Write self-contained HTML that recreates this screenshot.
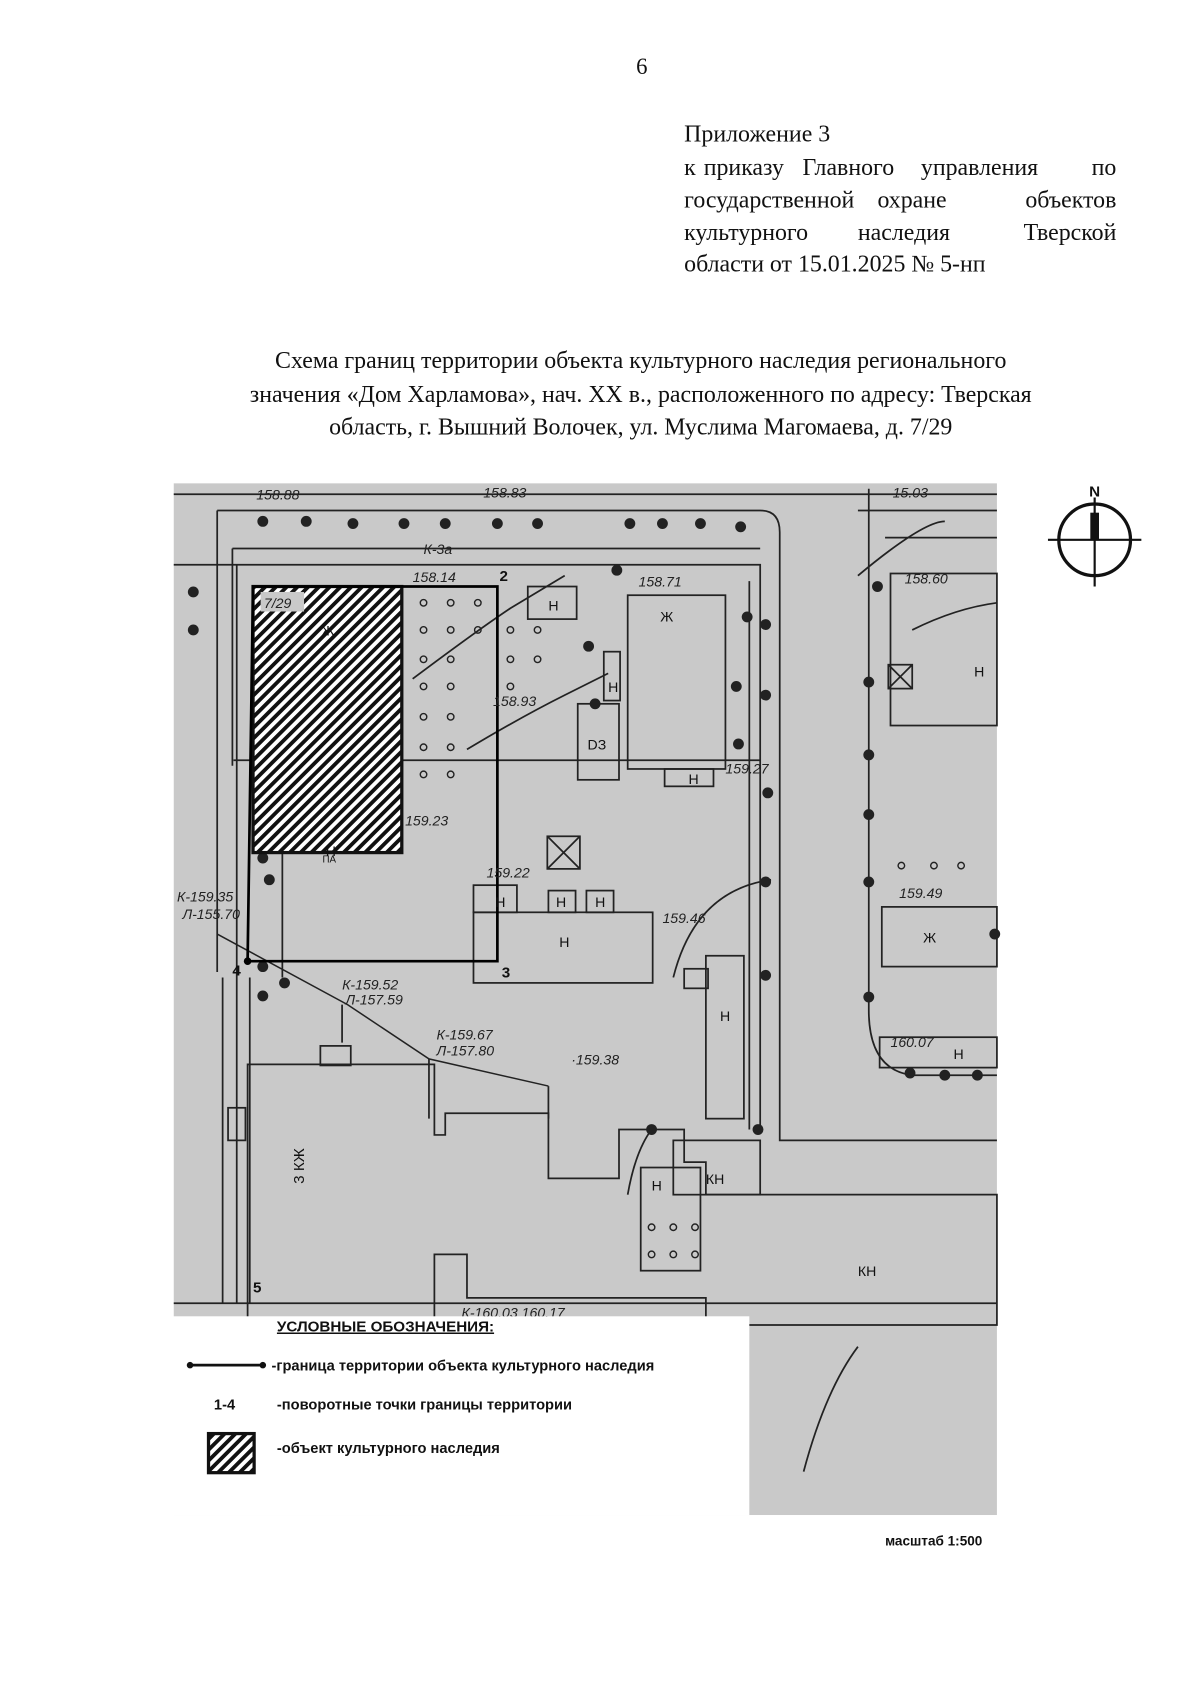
<!DOCTYPE html>
<html><head><meta charset="utf-8">
<style>
html,body{margin:0;padding:0;background:#fff;}
svg{display:block;}
.s{font-family:"Liberation Serif","Noto Serif CJK SC",serif;fill:#111;}
.a{font-family:"Liberation Sans","Noto Sans CJK SC",sans-serif;fill:#111;}
.m{font-family:"Liberation Sans",sans-serif;fill:#222;font-size:13px;font-style:italic;}
</style></head>
<body>
<svg width="1200" height="1703" viewBox="0 0 1105 1568" xmlns="http://www.w3.org/2000/svg">
<defs>
<pattern id="h" width="7" height="7" patternUnits="userSpaceOnUse" patternTransform="rotate(45)">
<rect width="7" height="7" fill="#fff"/><rect width="3.5" height="7" fill="#111"/>
</pattern>
</defs>
<rect width="1105" height="1568" fill="#fff"/>
<text x="591" y="68" class="s" font-size="21" text-anchor="middle">6</text>
<g class="s" font-size="22">
<text x="630" y="130">Приложение 3</text>
<text x="630" y="161">к</text><text x="648" y="161">приказу</text><text x="739" y="161">Главного</text><text x="848" y="161">управления</text><text x="1028" y="161" text-anchor="end">по</text>
<text x="630" y="191">государственной</text><text x="808" y="191">охране</text><text x="1028" y="191" text-anchor="end">объектов</text>
<text x="630" y="221">культурного</text><text x="790" y="221">наследия</text><text x="1028" y="221" text-anchor="end">Тверской</text>
<text x="630" y="250">области от 15.01.2025 № 5-нп</text>
</g>
<g class="s" font-size="22" text-anchor="middle">
<text x="590" y="339">Схема границ территории объекта культурного наследия регионального</text>
<text x="590" y="370">значения «Дом Харламова», нач. XX в., расположенного по адресу: Тверская</text>
<text x="590" y="400">область, г. Вышний Волочек, ул. Муслима Магомаева, д. 7/29</text>
</g>
<!-- map -->
<rect x="160" y="445" width="758" height="950" fill="#c9c9c9"/>
<g stroke="#222" stroke-width="1.6" fill="none">
<path d="M160 455H918M200 470V895M200 470H700Q718 470 718 490V1050H918"/>
<path d="M160 520H700V1040"/>
<path d="M214 505H700M214 505V705"/>
<path d="M215 700H700M690 535V1040"/>
<path d="M800 450V930Q800 985 840 990H918"/>
<path d="M790 470H918M815 495H918"/>
<path d="M218 520V1200M205 900V1200M230 900V1200"/>
<rect x="486" y="540" width="45" height="30"/>
<rect x="556" y="600" width="15" height="45"/>
<rect x="532" y="648" width="38" height="70"/>
<rect x="578" y="548" width="90" height="160"/>
<rect x="612" y="708" width="45" height="16"/>
<rect x="504" y="770" width="30" height="30"/>
<path d="M504 770L534 800M534 770L504 800"/>
<rect x="436" y="815" width="40" height="25"/>
<rect x="505" y="820" width="25" height="20"/>
<rect x="540" y="820" width="25" height="20"/>
<rect x="436" y="840" width="165" height="65"/>
<rect x="630" y="892" width="22" height="18"/>
<rect x="650" y="880" width="35" height="150"/>
<rect x="820" y="528" width="98" height="140"/>
<rect x="812" y="835" width="106" height="55"/>
<rect x="810" y="955" width="108" height="28"/>
<rect x="818" y="612" width="22" height="22"/>
<path d="M818 612L840 634M840 612L818 634"/>
<path d="M228 980H400V1045H410V1025H505V1085H570V1040H630V1070H650V1100H918V1220H650V1195H430V1155H400V1225H228Z"/>
<rect x="590" y="1075" width="55" height="95"/>
<rect x="620" y="1050" width="80" height="50"/>
<rect x="295" y="963" width="28" height="18"/><rect x="210" y="1020" width="16" height="30"/>
<path d="M380 625Q440 580 470 560L520 530"/>
<path d="M430 690Q480 660 520 640Q560 620 560 620"/>
<path d="M620 900Q640 820 710 810"/>
<path d="M790 530Q850 480 870 480"/>
<path d="M840 580Q880 560 918 555"/>
<path d="M578 1100Q585 1060 600 1040"/>
<path d="M740 1355Q760 1280 790 1240"/>
<path d="M260 540V900M160 1200H918"/>
<path d="M200 860L320 925L395 975L505 1000" stroke-width="1.4"/>
<path d="M315 925V960M395 975V1030M505 1000V1030"/>
</g>
<g fill="none" stroke="#222" stroke-width="1.3">
<circle cx="390" cy="555" r="3"/><circle cx="415" cy="555" r="3"/><circle cx="440" cy="555" r="3"/>
<circle cx="390" cy="580" r="3"/><circle cx="415" cy="580" r="3"/><circle cx="440" cy="580" r="3"/><circle cx="470" cy="580" r="3"/><circle cx="495" cy="580" r="3"/>
<circle cx="390" cy="607" r="3"/><circle cx="415" cy="607" r="3"/><circle cx="470" cy="607" r="3"/><circle cx="495" cy="607" r="3"/>
<circle cx="390" cy="632" r="3"/><circle cx="415" cy="632" r="3"/><circle cx="470" cy="632" r="3"/>
<circle cx="390" cy="660" r="3"/><circle cx="415" cy="660" r="3"/><circle cx="390" cy="688" r="3"/><circle cx="415" cy="688" r="3"/>
<circle cx="390" cy="713" r="3"/><circle cx="415" cy="713" r="3"/>
<circle cx="830" cy="797" r="3"/><circle cx="860" cy="797" r="3"/><circle cx="885" cy="797" r="3"/>
<circle cx="600" cy="1130" r="3"/><circle cx="620" cy="1130" r="3"/><circle cx="640" cy="1130" r="3"/>
<circle cx="600" cy="1155" r="3"/><circle cx="620" cy="1155" r="3"/><circle cx="640" cy="1155" r="3"/>
</g>
<g fill="#222">
<circle cx="242" cy="480" r="5"/><circle cx="282" cy="480" r="5"/><circle cx="325" cy="482" r="5"/><circle cx="372" cy="482" r="5"/><circle cx="410" cy="482" r="5"/><circle cx="458" cy="482" r="5"/><circle cx="495" cy="482" r="5"/><circle cx="580" cy="482" r="5"/><circle cx="610" cy="482" r="5"/><circle cx="645" cy="482" r="5"/><circle cx="682" cy="485" r="5"/>
<circle cx="178" cy="545" r="5"/><circle cx="178" cy="580" r="5"/>
<circle cx="568" cy="525" r="5"/><circle cx="542" cy="595" r="5"/><circle cx="548" cy="648" r="5"/>
<circle cx="688" cy="568" r="5"/><circle cx="705" cy="575" r="5"/><circle cx="678" cy="632" r="5"/><circle cx="705" cy="640" r="5"/><circle cx="680" cy="685" r="5"/><circle cx="707" cy="730" r="5"/>
<circle cx="705" cy="812" r="5"/><circle cx="705" cy="898" r="5"/><circle cx="698" cy="1040" r="5"/><circle cx="600" cy="1040" r="5"/>
<circle cx="808" cy="540" r="5"/><circle cx="800" cy="628" r="5"/><circle cx="800" cy="695" r="5"/><circle cx="800" cy="750" r="5"/><circle cx="800" cy="812" r="5"/><circle cx="800" cy="918" r="5"/><circle cx="916" cy="860" r="5"/>
<circle cx="838" cy="988" r="5"/><circle cx="870" cy="990" r="5"/><circle cx="900" cy="990" r="5"/>
<circle cx="242" cy="790" r="5"/><circle cx="248" cy="810" r="5"/><circle cx="242" cy="890" r="5"/><circle cx="262" cy="905" r="5"/><circle cx="242" cy="917" r="5"/>
</g>
<rect x="233" y="540" width="137" height="245" fill="url(#h)" stroke="#111" stroke-width="3"/>
<rect x="240" y="545" width="40" height="18" fill="#c9c9c9"/>
<text x="243" y="560" class="m" font-size="14">7/29</text>
<path d="M233 540H458V885H228Z" fill="none" stroke="#000" stroke-width="2.5"/>
<circle cx="228" cy="885" r="3.5" fill="#000"/>
<g class="a" font-size="14" font-weight="bold">
<text x="460" y="535">2</text><text x="462" y="900">3</text><text x="214" y="898">4</text><text x="233" y="1190">5</text>
</g>
<g class="m">
<text x="236" y="460">158.88</text><text x="445" y="458">158.83</text><text x="822" y="458">15.03</text>
<text x="380" y="536">158.14</text><text x="588" y="540">158.71</text><text x="833" y="537">158.60</text>
<text x="454" y="650">158.93</text><text x="373" y="760">159.23</text><text x="448" y="808">159.22</text>
<text x="610" y="850">159.46</text><text x="668" y="712">159.27</text><text x="828" y="827">159.49</text>
<text x="163" y="830">К-159.35</text><text x="168" y="846">Л-155.70</text>
<text x="315" y="911">К-159.52</text><text x="318" y="925">Л-157.59</text>
<text x="402" y="957">К-159.67</text><text x="402" y="972">Л-157.80</text>
<text x="526" y="980">·159.38</text><text x="820" y="964">160.07</text><text x="425" y="1213">К-160.03 160.17</text>
<text x="390" y="510">К-3а</text>
</g>
<g class="a" font-size="13">
<text x="505" y="562">Н</text><text x="296" y="585">Ж</text><text x="608" y="572">Ж</text><text x="541" y="690">DЗ</text>
<text x="560" y="637">Н</text><text x="634" y="722">Н</text><text x="456" y="835">Н</text><text x="512" y="835">Н</text><text x="548" y="835">Н</text>
<text x="515" y="872">Н</text><text x="663" y="940">Н</text><text x="897" y="623">Н</text><text x="850" y="868">Ж</text><text x="878" y="975">Н</text>
<text x="650" y="1090">КН</text><text x="790" y="1175">КН</text><text x="600" y="1096">Н</text>
<text x="300" y="788">Н</text><text x="297" y="794" font-size="9">ПА</text>
</g>
<text x="280" y="1090" class="a" font-size="14" transform="rotate(-90 280 1090)">3 КЖ</text>
<rect x="155" y="1212" width="535" height="183" fill="#fff"/>
<g class="a" font-weight="bold" font-size="13.5" fill="#222">
<text x="255" y="1226" text-decoration="underline" font-size="14">УСЛОВНЫЕ ОБОЗНАЧЕНИЯ:</text>
<text x="250" y="1262">-граница территории объекта культурного наследия</text>
<text x="197" y="1298">1-4</text>
<text x="255" y="1298">-поворотные точки границы территории</text>
<text x="255" y="1338">-объект культурного наследия</text>
<text x="815" y="1423" font-size="12.5">масштаб 1:500</text>
</g>
<line x1="175" y1="1257" x2="242" y2="1257" stroke="#111" stroke-width="2.5"/>
<circle cx="175" cy="1257" r="3" fill="#111"/><circle cx="242" cy="1257" r="3" fill="#111"/>
<rect x="192" y="1320" width="42" height="36" fill="url(#h)" stroke="#111" stroke-width="3"/>
<text x="1008" y="457" class="a" font-size="14" text-anchor="middle" font-weight="bold">N</text>
<circle cx="1008" cy="497" r="33" fill="none" stroke="#111" stroke-width="3"/>
<line x1="965" y1="497" x2="1051" y2="497" stroke="#111" stroke-width="2"/>
<line x1="1008" y1="458" x2="1008" y2="540" stroke="#111" stroke-width="2"/>
<rect x="1004" y="472" width="8" height="25" fill="#111"/>
</svg>
</body></html>
